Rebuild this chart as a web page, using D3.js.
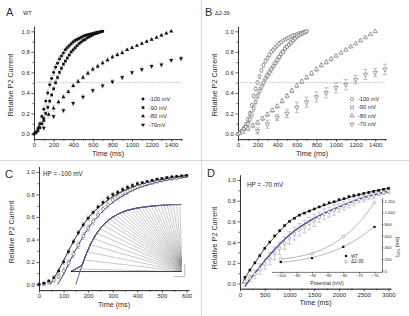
<!DOCTYPE html>
<html><head><meta charset="utf-8">
<script src="https://cdn.jsdelivr.net/npm/d3@7"></script>
<style>body{margin:0;background:#fff}svg{display:block}text{font-family:"Liberation Sans",Arial,sans-serif;fill:#2a2a2a}</style>
</head><body><svg id="c" width="409" height="316"></svg>
<script>
// ---------------- DATA ----------------
const tFast = [0,20,40,60,80,100,120,140,160,180,200,220,240,260,280,300,320,340,360,380,400,420,440,460,480,500,520,540,560,580,600,620,640,660,680,700];
const tSlow = [50,100,150,200,250,300,350,400,450,500,550,600,650,700,750,800,850,900,950,1000,1050,1100,1150,1200,1250,1300,1350,1400];
const tA70 = [100,200,300,400,500,600,700,800,900,1000,1100,1200,1300,1400,1500];
const tB70 = [200,300,400,500,600,700,800,900,1000,1100,1200,1300,1400,1500];
// Panel A (WT)
const A_m100 = [0,0.02,0.05,0.1,0.17,0.24,0.32,0.4,0.48,0.54,0.6,0.65,0.69,0.73,0.76,0.79,0.82,0.84,0.86,0.88,0.895,0.91,0.92,0.93,0.94,0.95,0.96,0.965,0.97,0.975,0.98,0.985,0.99,0.99,0.995,1.0];
const A_m100_err = [0,0.01,0.01,0.02,0.02,0.03,0.03,0.03,0.03,0.03,0.03,0.03,0.03,0.03,0.03,0.03,0.03,0.03,0.02,0.02,0.02,0.02,0.02,0.02,0.02,0.02,0.01,0.01,0.01,0.01,0.01,0.01,0.01,0.01,0.01,0];
const A_m90 = [0,0.01,0.03,0.06,0.1,0.15,0.2,0.26,0.32,0.38,0.44,0.5,0.55,0.6,0.64,0.68,0.71,0.74,0.77,0.8,0.82,0.84,0.86,0.88,0.895,0.91,0.92,0.935,0.945,0.955,0.965,0.975,0.98,0.99,0.995,1.0];
const A_m90_err = [0,0.01,0.01,0.01,0.02,0.02,0.02,0.02,0.02,0.02,0.02,0.02,0.02,0.02,0.02,0.02,0.02,0.02,0.02,0.02,0.02,0.02,0.01,0.01,0.01,0.01,0.01,0.01,0.01,0.01,0.01,0.01,0.01,0.01,0.01,0];
const A_m80 = [0.07,0.13,0.19,0.25,0.31,0.36,0.41,0.47,0.51,0.55,0.59,0.63,0.66,0.69,0.72,0.75,0.77,0.79,0.82,0.84,0.86,0.88,0.9,0.92,0.94,0.96,0.98,1.0];
const A_m80_err = [0.02,0.03,0.03,0.03,0.02,0.02,0.02,0.02,0.02,0.02,0.02,0.02,0.02,0.02,0.02,0.02,0.02,0.02,0.01,0.01,0.01,0.01,0.01,0.01,0.01,0.01,0.01,0];
const A_m70 = [0.06,0.17,0.23,0.3,0.36,0.425,0.47,0.51,0.55,0.6,0.63,0.66,0.675,0.72,0.735];
const A_m70_err = [0.02,0.02,0.02,0.02,0.02,0.02,0.02,0.02,0.02,0.02,0.02,0.02,0.02,0.02,0.02];
// Panel B (delta2-39)
const B_m100 = [0,0.02,0.03,0.06,0.09,0.14,0.2,0.28,0.37,0.44,0.5,0.56,0.62,0.67,0.71,0.74,0.77,0.8,0.82,0.84,0.86,0.88,0.895,0.91,0.92,0.93,0.94,0.95,0.96,0.965,0.97,0.98,0.985,0.99,0.995,1.0];
const B_m100_err = [0,0.01,0.01,0.01,0.02,0.02,0.02,0.02,0.02,0.02,0.02,0.02,0.02,0.02,0.02,0.02,0.02,0.02,0.02,0.02,0.02,0.02,0.01,0.01,0.01,0.01,0.01,0.01,0.01,0.01,0.01,0.01,0.01,0.01,0.01,0];
const B_m90 = [0,0.01,0.03,0.05,0.07,0.1,0.14,0.19,0.25,0.31,0.37,0.42,0.46,0.5,0.54,0.57,0.6,0.63,0.66,0.69,0.72,0.75,0.78,0.8,0.83,0.85,0.87,0.89,0.91,0.93,0.95,0.96,0.97,0.98,0.99,1.0];
const B_m90_err = [0,0.01,0.01,0.02,0.02,0.03,0.03,0.03,0.03,0.03,0.03,0.03,0.03,0.03,0.03,0.03,0.03,0.03,0.03,0.03,0.03,0.03,0.03,0.02,0.02,0.02,0.02,0.02,0.02,0.02,0.02,0.01,0.01,0.01,0.01,0];
const B_m80 = [0.02,0.05,0.08,0.11,0.15,0.19,0.23,0.27,0.32,0.37,0.42,0.47,0.51,0.55,0.59,0.63,0.67,0.7,0.73,0.76,0.79,0.82,0.85,0.88,0.91,0.94,0.97,1.0];
const B_m80_err = [0.01,0.02,0.02,0.02,0.02,0.02,0.02,0.02,0.02,0.02,0.02,0.02,0.02,0.02,0.02,0.02,0.02,0.02,0.02,0.01,0.01,0.01,0.01,0.01,0.01,0.01,0.01,0];
const B_m70 = [0.03,0.095,0.16,0.2,0.26,0.31,0.36,0.4,0.45,0.48,0.53,0.58,0.6,0.63];
const B_m70_err = [0.03,0.04,0.03,0.04,0.05,0.05,0.05,0.05,0.05,0.05,0.04,0.05,0.04,0.05];
// Panel C (HP -100 mV)
const tC = [0,20,40,60,80,100,120,140,160,180,200,220,240,260,280,300,320,340,360,380,400,420,440,460,480,500,520,540,560,580,600];
const C_wt = [0,0.01,0.03,0.06,0.12,0.2,0.29,0.38,0.46,0.53,0.59,0.64,0.69,0.73,0.77,0.8,0.82,0.845,0.865,0.88,0.895,0.905,0.915,0.925,0.935,0.94,0.95,0.955,0.96,0.965,0.97];
const C_wt_err = [0,0.01,0.01,0.02,0.02,0.02,0.02,0.02,0.02,0.02,0.02,0.02,0.02,0.02,0.02,0.02,0.02,0.02,0.02,0.02,0.02,0.01,0.01,0.01,0.01,0.01,0.01,0.01,0.01,0.01,0.01];
const C_d = [0,0.005,0.02,0.04,0.07,0.12,0.19,0.27,0.35,0.43,0.5,0.56,0.62,0.67,0.71,0.75,0.78,0.81,0.83,0.85,0.87,0.885,0.9,0.91,0.92,0.93,0.94,0.945,0.95,0.96,0.965];
const C_d_err = [0,0.01,0.01,0.02,0.02,0.03,0.03,0.03,0.03,0.03,0.03,0.03,0.03,0.03,0.03,0.03,0.03,0.03,0.03,0.02,0.02,0.02,0.02,0.02,0.02,0.02,0.02,0.02,0.02,0.01,0.01];
const fitC_wt_t = [45,60,80,100,120,140,160,180,200,250,300,350,400,450,500,550,600];
const fitC_wt_v = [0,0.05,0.13,0.21,0.3,0.38,0.46,0.53,0.59,0.7,0.78,0.84,0.88,0.91,0.935,0.955,0.97];
const fitC_d_t = [75,90,100,120,140,160,180,200,250,300,350,400,450,500,550,600];
const fitC_d_v = [0,0.05,0.09,0.18,0.27,0.35,0.43,0.5,0.63,0.73,0.8,0.855,0.89,0.92,0.94,0.955];
// inset traces of panel C (time, relative units)
const envT = [150,160,175,190,210,230,250,275,300,330,360,400,450,500,550,580];
const envV = [0,0.07,0.17,0.26,0.36,0.44,0.5,0.56,0.6,0.635,0.66,0.68,0.695,0.705,0.71,0.71];
const traceStart = 130, traceEnd = 580, traceBase = 0.115;
const tracePeaks = [170,183,196,209,222,235,248,261,274,287,300,313,326,339,352,365,378,391,404,417,430,443,456,469,482,495,508,521,534,547,560,573];
const traceEnds = [0.115,0.118,0.12,0.123,0.125,0.128,0.13,0.133,0.135,0.138,0.14,0.143,0.145,0.148,0.15,0.153,0.155,0.158,0.16,0.163,0.165,0.168,0.17,0.173,0.175,0.178,0.18,0.185,0.19,0.195,0.2,0.21];
// Panel D (HP -70 mV)
const tD = [100,200,300,400,500,600,700,800,900,1000,1100,1200,1300,1400,1500,1600,1700,1800,1900,2000,2100,2200,2300,2400,2500,2600,2700,2800,2900,3000];
const D_wt = [0.06,0.13,0.2,0.27,0.34,0.4,0.46,0.51,0.56,0.6,0.63,0.66,0.68,0.7,0.72,0.74,0.76,0.78,0.79,0.81,0.82,0.84,0.85,0.86,0.87,0.88,0.89,0.9,0.91,0.92];
const D_d = [0.02,0.05,0.09,0.14,0.19,0.24,0.29,0.34,0.39,0.44,0.48,0.52,0.55,0.58,0.61,0.64,0.67,0.69,0.71,0.73,0.75,0.77,0.79,0.81,0.82,0.84,0.85,0.87,0.88,0.89];
const D_d_err = [0.02,0.03,0.04,0.05,0.05,0.06,0.06,0.06,0.06,0.06,0.06,0.06,0.06,0.06,0.06,0.05,0.05,0.05,0.05,0.04,0.04,0.04,0.04,0.03,0.03,0.03,0.03,0.02,0.02,0.02];
const fitD_wt_t = [50,100,200,300,400,500,700,1000,1500,2000,2500,3000];
const fitD_wt_v = [0,0.05,0.13,0.2,0.27,0.34,0.45,0.6,0.72,0.8,0.87,0.92];
const fitD_d_t = [100,200,300,400,500,700,1000,1500,2000,2500,3000];
const fitD_d_v = [-0.03,0.04,0.1,0.16,0.22,0.33,0.47,0.63,0.74,0.83,0.89];
// inset of D: t50% vs potential
const potentials = [-100,-90,-80,-70];
const t50_wt = [150,215,410,750];
const t50_d = [205,290,585,1170];
const fitPot = [-100,-95,-90,-85,-80,-75,-70];
const fitT50_wt = [145,175,225,300,410,560,760];
const fitT50_d = [200,235,300,410,580,820,1170];

const yTicks = [0,0.2,0.4,0.6,0.8,1.0];
const yMinor = [0.1,0.3,0.5,0.7,0.9];

// ---------------- DRAW ----------------
const svg = d3.select('#c');
const AX = '#222';

function makePanel(o){
  const x = d3.scaleLinear().domain(o.xd).range([o.xl,o.xr]);
  const y = d3.scaleLinear().domain([-0.05,1.05]).range([o.yb,o.yt]);
  const g = svg.append('g');
  g.append('g').attr('transform',`translate(0,${o.yb})`)
   .call(d3.axisBottom(x).tickValues(o.xMinor).tickSize(1.6).tickFormat('').tickSizeOuter(0));
  g.append('g').attr('transform',`translate(0,${o.yb})`)
   .call(d3.axisBottom(x).tickValues(o.xMajor).tickSize(2.6).tickPadding(1.5).tickSizeOuter(0).tickFormat(d3.format('d')));
  g.append('g').attr('transform',`translate(${o.xl},0)`)
   .call(d3.axisLeft(y).tickValues(yMinor).tickSize(1.6).tickFormat('').tickSizeOuter(0));
  g.append('g').attr('transform',`translate(${o.xl},0)`)
   .call(d3.axisLeft(y).tickValues(yTicks).tickSize(2.6).tickPadding(1.5).tickSizeOuter(0).tickFormat(d3.format('.1f')));
  g.selectAll('.domain,.tick line').attr('stroke',AX).attr('stroke-width',0.7);
  g.selectAll('.tick text').attr('font-size',6).attr('fill','#444');
  g.append('text').attr('x',(o.xl+o.xr)/2).attr('y',o.yb+16.5).attr('text-anchor','middle').attr('font-size',7.2).text('Time (ms)');
  g.append('text').attr('transform',`translate(${o.yl},${o.ym}) rotate(-90)`).attr('text-anchor','middle').attr('font-size',7.2).text('Relative P2 Current');
  return {x,y,g};
}

function sym(type, size){ return d3.symbol().type(type).size(size); }
function drawErr(p, ts, vs, es, color, cap){
  p.g.append('g').selectAll('path').data(ts).join('path')
   .attr('d',(t,i)=>{ if(!es[i]) return ''; const X=p.x(t),y1=p.y(vs[i]-es[i]),y2=p.y(vs[i]+es[i]);
     return `M${X},${y1}V${y2}M${X-cap},${y1}H${X+cap}M${X-cap},${y2}H${X+cap}`;})
   .attr('fill','none').attr('stroke',color).attr('stroke-width',0.5);
}
function drawPts(p, ts, vs, type, size, filled, color, rot){
  p.g.append('g').selectAll('path').data(ts).join('path')
   .attr('transform',(t,i)=>`translate(${p.x(t)},${p.y(vs[i])})${rot?' rotate(180)':''}`)
   .attr('d',sym(type,size)())
   .attr('fill',filled?color:'#fff').attr('stroke',color).attr('stroke-width',filled?0:0.55);
}
function drawLine(p, ts, vs, color, w){
  p.g.append('path').datum(ts).attr('d',d3.line().x(t=>p.x(t)).y((t,i)=>p.y(vs[i])).curve(d3.curveMonotoneX))
   .attr('fill','none').attr('stroke',color).attr('stroke-width',w);
}

// separators
svg.append('line').attr('x1',0).attr('x2',409).attr('y1',160.5).attr('y2',160.5).attr('stroke','#d0d0d0').attr('stroke-width',0.8);
svg.append('line').attr('x1',201.5).attr('x2',201.5).attr('y1',0).attr('y2',316).attr('stroke','#d0d0d0').attr('stroke-width',0.8);

// ---- Panel A ----
const pA = makePanel({xd:[0,1510],xl:34,xr:182,yb:139.1,yt:26.2,xMajor:[0,200,400,600,800,1000,1200,1400],xMinor:[100,300,500,700,900,1100,1300,1500],yl:12.5,ym:85});
pA.g.append('line').attr('x1',pA.x(0)).attr('x2',pA.x(1500)).attr('y1',pA.y(0.5)).attr('y2',pA.y(0.5)).attr('stroke','#888').attr('stroke-width',0.6).attr('stroke-dasharray','1.2,1.2');
drawErr(pA,tFast,A_m100,A_m100_err,'#aaa',1.6);
drawErr(pA,tFast,A_m90,A_m90_err,'#aaa',1.6);
drawErr(pA,tSlow,A_m80,A_m80_err,'#aaa',1.6);
drawErr(pA,tA70,A_m70,A_m70_err,'#aaa',1.6);
drawPts(pA,tFast,A_m100,d3.symbolCircle,7,true,'#111');
drawPts(pA,tFast,A_m90,d3.symbolSquare,7,true,'#111');
drawPts(pA,tSlow,A_m80,d3.symbolTriangle,7,true,'#111');
drawPts(pA,tA70,A_m70,d3.symbolTriangle,7,true,'#111',true);
svg.append('text').attr('x',6).attr('y',16).attr('font-size',11).text('A');
svg.append('text').attr('x',23).attr('y',15).attr('font-size',5.5).text('WT');
const legA = [['-100 mV',d3.symbolCircle,false],['-90 mV',d3.symbolSquare,false],['-80 mV',d3.symbolTriangle,false],['-70mV',d3.symbolTriangle,true]];
legA.forEach((l,i)=>{
  const yy = 99+i*8.6;
  svg.append('path').attr('transform',`translate(143,${yy})${l[2]?' rotate(180)':''}`).attr('d',sym(l[1],7)()).attr('fill','#111');
  svg.append('text').attr('x',149).attr('y',yy+2).attr('font-size',5.6).text(l[0]);
});

// ---- Panel B ----
const pB = makePanel({xd:[0,1510],xl:238,xr:386,yb:139.1,yt:26.2,xMajor:[0,200,400,600,800,1000,1200,1400],xMinor:[100,300,500,700,900,1100,1300,1500],yl:216.5,ym:85});
pB.g.append('line').attr('x1',pB.x(0)).attr('x2',pB.x(1500)).attr('y1',pB.y(0.5)).attr('y2',pB.y(0.5)).attr('stroke','#888').attr('stroke-width',0.6).attr('stroke-dasharray','1.2,1.2');
drawErr(pB,tFast,B_m100,B_m100_err,'#999',1.6);
drawErr(pB,tFast,B_m90,B_m90_err,'#999',1.6);
drawErr(pB,tSlow,B_m80,B_m80_err,'#999',1.6);
drawErr(pB,tB70,B_m70,B_m70_err,'#888',2.2);
drawPts(pB,tFast,B_m100,d3.symbolCircle,8,false,'#555');
drawPts(pB,tFast,B_m90,d3.symbolSquare,8,false,'#555');
drawPts(pB,tSlow,B_m80,d3.symbolTriangle,8,false,'#555');
drawPts(pB,tB70,B_m70,d3.symbolTriangle,8,false,'#555',true);
svg.append('text').attr('x',205).attr('y',16).attr('font-size',11).text('B');
svg.append('text').attr('x',215).attr('y',15).attr('font-size',5.5).text('Δ2-39');
const legB = [['-100 mV',d3.symbolCircle,false],['-90 mV',d3.symbolSquare,false],['-80 mV',d3.symbolTriangle,false],['-70 mV',d3.symbolTriangle,true]];
legB.forEach((l,i)=>{
  const yy = 99+i*8.4;
  svg.append('path').attr('transform',`translate(352,${yy})${l[2]?' rotate(180)':''}`).attr('d',sym(l[1],8)()).attr('fill','#fff').attr('stroke','#555').attr('stroke-width',0.55);
  svg.append('text').attr('x',358).attr('y',yy+2).attr('font-size',5.6).text(l[0]);
});

// ---- Panel C ----
const pC = makePanel({xd:[0,610],xl:39,xr:189,yb:290.1,yt:166.4,xMajor:[0,100,200,300,400,500,600],xMinor:[50,150,250,350,450,550],yl:14,ym:232});
(function(){
  const gi = pC.g.append('g');
  const envAt = t => { for(let k=1;k<envT.length;k++){ if(t<=envT[k]){ const f=(t-envT[k-1])/(envT[k]-envT[k-1]); return envV[k-1]+f*(envV[k]-envV[k-1]); } } return envV[envV.length-1]; };
  tracePeaks.forEach((tp,i)=>{
    const pts=[[traceStart,traceBase]];
    envT.forEach((t,k)=>{ if(t<tp && envV[k]>traceBase) pts.push([t,envV[k]]); });
    pts.push([tp,envAt(tp)]);
    pts.push([traceEnd,traceEnds[i]]);
    gi.append('path').attr('d',d3.line().x(d=>pC.x(d[0])).y(d=>pC.y(d[1]))(pts)).attr('fill','none').attr('stroke','#777').attr('stroke-width',0.4);
  });
  gi.append('path').attr('d',d3.line().x(d=>pC.x(d[0])).y(d=>pC.y(d[1]))([[traceStart,traceBase],[traceEnd,traceBase]])).attr('stroke','#111').attr('stroke-width',0.8);
  gi.append('path').attr('d',`M${pC.x(550)},${pC.y(0.07)}H${pC.x(593)}V${pC.y(0.18)}`).attr('fill','none').attr('stroke','#999').attr('stroke-width',0.7);
})();
drawLine(pC,envT,envV,'#4a4a9a',0.9);
drawErr(pC,tC,C_d,C_d_err,'#999',1.8);
drawErr(pC,tC,C_wt,C_wt_err,'#999',1.8);
drawLine(pC,fitC_d_t,fitC_d_v,'#3a3a90',1.0);
drawLine(pC,fitC_wt_t,fitC_wt_v,'#111',0.9);
drawPts(pC,tC,C_d,d3.symbolCircle,8,false,'#444');
drawPts(pC,tC,C_wt,d3.symbolCircle,7,true,'#111');
svg.append('text').attr('x',5).attr('y',178).attr('font-size',11).text('C');
svg.append('text').attr('x',43).attr('y',176).attr('font-size',6.3).text('HP = -100 mV');

// ---- Panel D ----
const pD = makePanel({xd:[0,3050],xl:240,xr:391,yb:288.7,yt:174.8,xMajor:[0,500,1000,1500,2000,2500,3000],xMinor:[250,750,1250,1750,2250,2750],yl:217,ym:238});
drawErr(pD,tD,D_d,D_d_err,'#999',2.2);
drawLine(pD,fitD_d_t,fitD_d_v,'#8a8ac8',1.6);
drawLine(pD,fitD_d_t,fitD_d_v,'#2a2a80',0.8);
drawLine(pD,fitD_wt_t,fitD_wt_v,'#111',0.8);
drawPts(pD,tD,D_d,d3.symbolCircle,7,false,'#777');
drawPts(pD,tD,D_wt,d3.symbolSquare,7,true,'#111');
svg.append('text').attr('x',207).attr('y',177).attr('font-size',11).text('D');
svg.append('text').attr('x',247).attr('y',187).attr('font-size',6.3).text('HP = -70 mV');
(function(){
  const xi = d3.scaleLinear().domain([-103,-67.6]).range([271.4,382]);
  const yi = d3.scaleLinear().domain([-20,1250]).range([271.9,197.8]);
  const gi = svg.append('g');
  gi.append('g').attr('transform','translate(0,271.9)').call(d3.axisBottom(xi).tickValues([-100,-95,-90,-85,-80,-75,-70]).tickSize(1.5).tickPadding(1).tickSizeOuter(0));
  gi.append('g').attr('transform','translate(382,0)').call(d3.axisRight(yi).tickValues([0,200,400,600,800,1000,1200]).tickSize(1.5).tickPadding(1).tickSizeOuter(0));
  gi.selectAll('.domain,.tick line').attr('stroke',AX).attr('stroke-width',0.6);
  gi.selectAll('.tick text').attr('font-size',4.2).attr('fill','#444');
  const ln = d3.line().x((p,i)=>xi(p)).curve(d3.curveMonotoneX);
  gi.append('path').attr('d',ln.y((p,i)=>yi(fitT50_wt[i]))(fitPot)).attr('fill','none').attr('stroke','#888').attr('stroke-width',0.6);
  gi.append('path').attr('d',ln.y((p,i)=>yi(fitT50_d[i]))(fitPot)).attr('fill','none').attr('stroke','#888').attr('stroke-width',0.6);
  gi.selectAll('.pw').data(potentials).join('path').attr('transform',(p,i)=>`translate(${xi(p)},${yi(t50_wt[i])})`).attr('d',sym(d3.symbolSquare,5)()).attr('fill','#111');
  gi.selectAll('.pd').data(potentials).join('path').attr('transform',(p,i)=>`translate(${xi(p)},${yi(t50_d[i])})`).attr('d',sym(d3.symbolCircle,6)()).attr('fill','#fff').attr('stroke','#777').attr('stroke-width',0.5);
  gi.append('text').attr('x',327).attr('y',285).attr('text-anchor','middle').attr('font-size',5.3).text('Potential (mV)');
  const tl = gi.append('text').attr('transform','translate(399,247) rotate(-90)').attr('text-anchor','middle').attr('font-size',5.3);
  tl.append('tspan').text('t');
  tl.append('tspan').attr('font-size',3.6).attr('dy',1.2).text('50%');
  tl.append('tspan').attr('dy',-1.2).text(' (ms)');
  gi.append('path').attr('transform','translate(346,256)').attr('d',sym(d3.symbolSquare,5)()).attr('fill','#111');
  gi.append('path').attr('transform','translate(346,261.5)').attr('d',sym(d3.symbolCircle,6)()).attr('fill','#fff').attr('stroke','#777').attr('stroke-width',0.5);
  gi.append('text').attr('x',351).attr('y',257.7).attr('font-size',4.6).text('WT');
  gi.append('text').attr('x',351).attr('y',263.2).attr('font-size',4.6).text('Δ2-39');
})();
</script></body></html>
